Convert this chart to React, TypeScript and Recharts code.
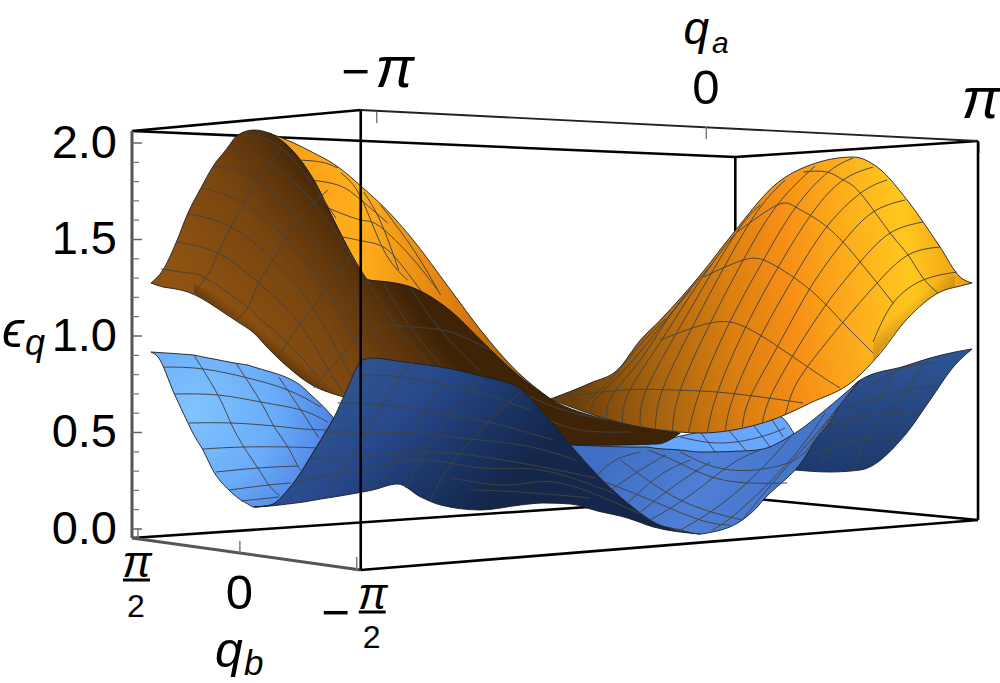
import React from 'react';
import { ComposedChart, XAxis, YAxis, Area, Line, Scatter } from 'recharts';

type Pt = [number, number];

// ---- projected surface outlines (x, upper edge, lower edge) ----
const lightXs = [150, 157, 173, 187, 193, 202, 213, 228, 240, 247, 253, 270, 287, 303, 307, 320, 333];
const lightTop = [352, 352.5, 353.5, 354.5, 355, 357, 359, 362, 364, 365, 367, 372, 378, 388, 392, 404, 418];
const lightBot = [352, 357, 393, 423, 435, 450, 472, 490, 500, 504, 507, 505, 490, 468, 461, 440, 418];

const stripXs = [570, 610, 647, 680, 720, 760, 778, 794];
const stripTop = [445, 445, 444, 436, 428, 420, 416, 434];
const stripBot = [445, 448, 450, 460, 460, 455, 445, 434];

const navyXs = [795, 830, 860, 905, 930, 955, 972];
const navyTop = [470, 420, 380, 366, 358, 352, 349];
const navyBot = [470, 472, 470, 435, 400, 365, 349];

const upperXs = [268, 293, 313, 333, 350, 360, 368, 387, 410, 450, 480, 517, 550];
const upperTop = [133, 143, 153, 164, 177, 186, 193, 211, 237, 290, 330, 372, 399];
const upperBot = [133, 152, 180, 220, 253, 270, 280, 282, 287, 311, 340, 375, 399];

const brownXs = [150, 162, 175, 187, 200, 213, 225, 237, 253, 268, 293, 313, 333, 350, 360, 368, 387, 410, 450, 480, 517, 550, 607, 657, 680];
const brownTop = [283, 270, 243, 213, 188, 165, 150, 135, 130, 133, 152, 180, 220, 253, 270, 280, 282, 287, 311, 340, 375, 399, 420, 430, 433];
const brownBot = [283, 287, 289, 292, 298, 306, 314, 322, 333, 349, 372, 386, 394, 399, 402, 410, 420, 425, 430, 435, 440, 445, 445, 444, 433];

const brownRimXs = [193, 220, 247, 277, 307, 343];
const brownRimTop = [285, 296, 312, 342, 368, 385];
const brownRimBot = [293, 310, 328, 358, 383, 397];

const orangeXs = [550, 590, 617, 640, 660, 700, 733, 777, 810, 853, 877, 907, 940, 960, 972];
const orangeTop = [399, 383, 370, 340, 320, 275, 233, 183, 165, 157, 167, 200, 247, 277, 283];
const orangeBot = [399, 414, 422, 427, 430, 433, 430, 418, 403, 381, 357, 319, 292, 286, 283];

const orangeRimXs = [873, 893, 907, 925, 940, 955];
const orangeRimTop = [345, 312, 296, 280, 274, 276];
const orangeRimBot = [361, 335, 319, 303, 292, 287];

const deepXs = [253, 270, 287, 303, 320, 333, 345, 362, 372, 397, 420, 440, 480, 520, 543, 570, 597, 627, 653, 700];
const deepTop = [507, 505, 490, 468, 440, 418, 392, 360, 358, 361, 364, 367, 376, 389, 413, 445, 475, 503, 522, 534];
const deepBot = [507, 506, 504, 502, 499, 497, 495, 492, 490, 484, 497, 505, 510, 505, 503, 504, 511, 518, 527, 534];

const midXs = [570, 597, 627, 647, 653, 680, 700, 707, 742, 757, 763, 790, 795, 825, 860];
const midTop = [445, 446, 447, 447, 448, 450, 452, 452, 451, 450, 449, 436, 433, 410, 380];
const midBot = [445, 475, 503, 518, 522, 530, 534, 533, 520, 507, 500, 475, 470, 425, 380];

// ---- mesh lines ----
const lightMesh: Pt[][] = [
  [[163, 367], [203, 369], [247, 378], [287, 390], [320, 407]],
  [[173, 394], [217, 395], [260, 402], [300, 410], [327, 422]],
  [[188, 423], [230, 423], [273, 426], [303, 429], [327, 430]],
  [[202, 449], [243, 447], [287, 447], [317, 448]],
  [[215, 472], [257, 468], [297, 466]],
  [[228, 490], [268, 485], [290, 483]],
  [[240, 501], [278, 497]],
  [[193, 355], [217, 395], [230, 423], [243, 447], [257, 468], [268, 485], [279, 496]],
  [[235, 363], [260, 402], [273, 426], [287, 447], [297, 466], [302, 472]],
  [[278, 377], [300, 410], [318, 438]],
];
const brownMesh: Pt[][] = [
  [[160, 269], [188, 273], [208, 280], [247, 307], [258, 318], [287, 343], [317, 377]],
  [[175, 242], [217, 253], [258, 283], [298, 323], [328, 370], [343, 393]],
  [[188, 214], [230, 227], [272, 260], [312, 307], [340, 357], [358, 387]],
  [[202, 188], [243, 203], [285, 238], [325, 288], [353, 340], [372, 375]],
  [[213, 166], [255, 180], [298, 220], [340, 273], [372, 330], [400, 361]],
  [[226, 147], [268, 163], [313, 203], [360, 270], [395, 325], [430, 364]],
  [[240, 135], [283, 150], [335, 218]],
  [[193, 293], [208, 273], [217, 253], [230, 227], [243, 203], [255, 180], [268, 163], [283, 147]],
  [[235, 320], [247, 307], [258, 283], [272, 260], [285, 238], [298, 218], [313, 203], [327, 190]],
  [[277, 357], [300, 323], [312, 307], [325, 288], [340, 273], [350, 255]],
  [[313, 388], [328, 370], [340, 357], [353, 340], [372, 326], [413, 327], [450, 332], [490, 350]],
  [[383, 283], [407, 323], [440, 365]],
  [[410, 288], [440, 330], [480, 372]],
  [[520, 392], [570, 412], [640, 425]],
  [[505, 385], [560, 425], [630, 432]],
];
const upperMesh: Pt[][] = [
  [[295, 160], [320, 162], [337, 168]],
  [[310, 180], [337, 185], [358, 198], [387, 223]],
  [[327, 208], [360, 220], [377, 225], [407, 253], [437, 290]],
  [[342, 237], [367, 242], [387, 250], [407, 273], [425, 297]],
  [[340, 173], [360, 197], [383, 250], [407, 280]],
  [[363, 192], [380, 222], [398, 270]],
  [[380, 205], [413, 250], [440, 295]],
];
const orangeMesh: Pt[][] = [
  [[557, 398], [623, 390], [673, 390], [727, 393], [803, 403]],
  [[660, 340], [710, 323], [747, 328], [793, 357], [827, 380], [840, 388]],
  [[703, 277], [743, 260], [770, 263], [810, 290], [843, 323], [873, 353]],
  [[737, 232], [777, 205], [797, 208], [827, 227], [860, 262], [893, 303]],
  [[803, 172], [827, 172], [843, 180], [860, 193], [890, 233], [908, 255], [923, 278], [938, 293]],
  [[957, 272], [923, 280], [893, 303], [873, 342]],
  [[940, 247], [908, 255], [877, 283], [843, 322], [810, 363], [793, 390], [785, 415]],
  [[923, 222], [890, 233], [860, 262], [827, 303], [793, 355], [770, 397], [762, 423]],
  [[905, 200], [873, 212], [843, 242], [810, 288], [777, 347], [750, 397], [742, 427]],
  [[887, 180], [862, 192], [828, 225], [795, 275], [760, 337], [733, 397], [725, 431]],
  [[873, 167], [843, 180], [812, 213], [778, 267], [745, 328], [717, 393], [707, 433]],
  [[853, 158], [828, 172], [795, 208], [762, 262], [727, 327], [700, 390], [688, 432]],
  [[815, 166], [777, 205], [743, 260], [710, 323], [680, 390], [672, 431]],
  [[785, 180], [758, 210], [725, 265], [692, 327], [662, 390], [655, 429]],
  [[760, 205], [740, 227], [707, 280], [675, 335], [645, 392], [640, 428]],
  [[735, 234], [722, 250], [690, 295], [658, 345], [628, 393], [622, 425]],
  [[712, 264], [672, 312], [640, 360], [612, 395], [606, 420]],
  [[690, 290], [655, 333], [622, 372], [596, 398], [590, 414]],
  [[665, 319], [635, 350], [605, 385], [578, 407]],
];
const navyMesh: Pt[][] = [
  [[937, 363], [907, 367], [870, 385]],
  [[937, 387], [905, 390], [870, 400], [845, 408]],
  [[920, 415], [890, 413], [850, 420], [827, 423]],
  [[900, 440], [867, 438], [820, 452]],
  [[923, 365], [907, 390], [890, 413], [867, 438], [857, 463]],
  [[893, 373], [873, 407], [850, 420], [820, 465]],
];
const stripMesh: Pt[][] = [
  [[680, 437], [720, 443], [760, 437], [785, 428]],
  [[700, 432], [715, 452]],
  [[725, 426], [745, 450]],
  [[750, 421], [770, 447]],
  [[770, 417], [783, 437]],
];
const deepMesh: Pt[][] = [
  [[360, 375], [400, 377], [447, 385], [480, 393], [530, 410]],
  [[337, 403], [383, 405], [450, 415], [500, 425], [553, 440]],
  [[323, 432], [413, 433], [450, 437], [520, 445], [575, 460]],
  [[310, 458], [360, 457], [410, 453], [450, 453], [520, 463], [595, 478]],
  [[295, 482], [330, 475], [360, 470], [420, 460], [480, 468], [540, 470], [615, 494]],
  [[410, 362], [380, 407], [353, 453], [330, 487]],
  [[445, 378], [413, 433], [383, 480], [365, 491]],
  [[480, 380], [450, 415], [420, 460], [405, 488]],
  [[520, 392], [490, 420], [450, 465], [430, 500]],
  [[450, 478], [510, 485], [560, 483], [640, 514]],
  [[470, 490], [520, 492], [590, 498]],
];
const midMesh: Pt[][] = [
  [[597, 475], [615, 460], [640, 452]],
  [[610, 490], [640, 470], [665, 455]],
  [[627, 503], [660, 475], [690, 460]],
  [[640, 512], [675, 485], [710, 462]],
  [[650, 520], [690, 495], [730, 465], [760, 450]],
  [[680, 530], [720, 505], [760, 470], [790, 437]],
  [[712, 530], [740, 510], [790, 460], [825, 413]],
  [[742, 520], [775, 480], [815, 435], [850, 392]],
  [[647, 450], [677, 462], [723, 480], [787, 483]],
  [[620, 460], [680, 500], [742, 520]],
  [[605, 482], [650, 500], [700, 520], [730, 525]],
  [[680, 452], [730, 470], [790, 462], [815, 437]],
];

// ---- box ----
const boxBackHeavy: Pt[][] = [
  [[131, 131], [735, 157]],
  [[735, 157], [978, 141]],
  [[131, 131], [360, 110]],
  [[735, 157], [735, 320]],
  [[131, 538], [735, 497]],
  [[735, 497], [978, 520]],
];
const boxBackLight: Pt[][] = [[[360, 110], [978, 141]]];
const boxGrey: Pt[][] = [
  [[131, 131], [131, 538]],
  [[131, 538], [360, 570]],
];
const boxFront: Pt[][] = [
  [[360, 110], [360, 570]],
  [[360, 570], [978, 520]],
  [[978, 141], [978, 520]],
];
const boxTicks: Pt[][] = [
  [[376, 112], [376, 123]],
  [[706, 126], [706, 139]],
  [[979, 143], [979, 153]],
  [[137, 528], [137, 538]],
  [[239, 541], [239, 553]],
  [[356, 557], [356, 570]],
];
const fractionBars: Pt[][] = [
  [[122, 580], [149, 580]],
  [[358, 612], [385, 612]],
];

// ---- energy axis ----
const energyMajor = [0, 0.5, 1, 1.5, 2];
const energyMinor = [0.1, 0.2, 0.3, 0.4, 0.6, 0.7, 0.8, 0.9, 1.1, 1.2, 1.3, 1.4, 1.6, 1.7, 1.8, 1.9];

// ---- text ----
type Note = { x: number; y: number; text: string; kind: string };
const notes: Note[] = [
  { x: 355, y: 88, text: '−', kind: 'big' },
  { x: 394, y: 87, text: 'π', kind: 'pi' },
  { x: 705.5, y: 104, text: '0', kind: 'big' },
  { x: 981, y: 118, text: 'π', kind: 'pi' },
  { x: 238.5, y: 609, text: '0', kind: 'big' },
  { x: 136, y: 577, text: 'π', kind: 'fracPi' },
  { x: 135, y: 617, text: '2', kind: 'frac' },
  { x: 372, y: 609, text: 'π', kind: 'fracPi' },
  { x: 371, y: 648, text: '2', kind: 'frac' },
  { x: 335, y: 629, text: '−', kind: 'big' },
  { x: 228, y: 667, text: 'q', kind: 'ital' },
  { x: 253, y: 675, text: 'b', kind: 'subB' },
  { x: 696, y: 44, text: 'q', kind: 'italTop' },
  { x: 720, y: 53, text: 'a', kind: 'subA' },
];
const noteStyle: Record<string, any> = {
  big: { fontSize: 49 },
  pi: { fontSize: 58, fontStyle: 'italic' },
  fracPi: { fontSize: 44, fontStyle: 'italic' },
  frac: { fontSize: 32 },
  ital: { fontSize: 50, fontStyle: 'italic' },
  italTop: { fontSize: 46, fontStyle: 'italic' },
  subB: { fontSize: 35, fontStyle: 'italic' },
  subA: { fontSize: 30, fontStyle: 'italic' },
};

const FONT = '"Liberation Sans", Arial, sans-serif';

const band = (xs: number[], top: number[], bot: number[]) =>
  xs.map((x, i) => ({ x, range: [bot[i], top[i]] }));
const poly = (list: Pt[][]) => {
  const out: { x: number; y: number | null }[] = [];
  list.forEach((l) => {
    l.forEach(([x, y]) => out.push({ x, y }));
    out.push({ x: l[l.length - 1][0], y: null });
  });
  return out;
};
const energyTicks = (vals: number[], len: number) => {
  const out: { x: number; e: number | null }[] = [];
  vals.forEach((e) => {
    out.push({ x: 131, e }, { x: 131 + len, e }, { x: 131 + len, e: null });
  });
  return out;
};

const LAYERS = [
  'back-heavy', 'back-light', 'grey', 'ticks', 'emajor', 'eminor',
  'light', 'light-mesh', 'strip', 'strip-mesh',
  'upper', 'upper-mesh', 'brown', 'brown-rim', 'brown-mesh', 'orange', 'orange-rim', 'orange-mesh',
  'navy', 'navy-mesh', 'deep', 'deep-mesh', 'mid', 'mid-mesh',
  'front', 'bars',
];
const z = (id: string) => 1 + LAYERS.indexOf(id);

const face = (id: string, xs: number[], top: number[], bot: number[], fill: string, stroke: string = '#1d1d1d') => (
  <Area
    key={id}
    yAxisId="px"
    zIndex={z(id)}
    data={band(xs, top, bot)}
    dataKey="range"
    type="monotone"
    stroke={stroke}
    strokeWidth={0.9}
    fill={fill}
    fillOpacity={1}
    dot={false}
    activeDot={false}
    isAnimationActive={false}
  />
);
const wire = (id: string, list: Pt[][], stroke: string, w: number, type: any = 'linear') => (
  <Line
    key={id}
    yAxisId="px"
    zIndex={z(id)}
    data={poly(list)}
    dataKey="y"
    type={type}
    stroke={stroke}
    strokeWidth={w}
    dot={false}
    activeDot={false}
    isAnimationActive={false}
    connectNulls={false}
  />
);
const mesh = (id: string, list: Pt[][], stroke = '#424240', w = 0.95) => wire(id, list, stroke, w, 'natural');

const NoteMark = (p: any) => {
  const n: Note = p.payload;
  return (
    <text x={p.cx} y={p.cy} textAnchor="middle" fontFamily={FONT} fill="#000" {...noteStyle[n.kind]}>
      {n.text}
    </text>
  );
};

const EpsTitle = () => (
  <g>
    <text x={2} y={347} fontFamily={FONT} fontSize={50} fontStyle="italic" fill="#000">ϵ</text>
    <text x={25} y={355} fontFamily={FONT} fontSize={36} fontStyle="italic" fill="#000">q</text>
  </g>
);

export default function App() {
  return (
    <div style={{ position: 'absolute', left: 0, top: 0, width: 1000, height: 683, background: '#fff' }}>
      <ComposedChart width={1000} height={683} margin={{ top: 0, right: 0, bottom: 0, left: 0 }}>
        <defs>
          <radialGradient id="gLight" gradientUnits="userSpaceOnUse" cx={195} cy={410} r={135}>
            <stop offset="0" stopColor="#80C4FF" />
            <stop offset="0.6" stopColor="#6AABF8" />
            <stop offset="1" stopColor="#4F87E6" />
          </radialGradient>
          <linearGradient id="gBrown" gradientUnits="userSpaceOnUse" x1={200} y1={300} x2={340} y2={200}>
            <stop offset="0" stopColor="#8E5310" />
            <stop offset="0.5" stopColor="#7A4610" />
            <stop offset="0.8" stopColor="#5C340B" />
            <stop offset="1" stopColor="#3F2306" />
          </linearGradient>
          <linearGradient id="gBrownRim" gradientUnits="userSpaceOnUse" x1={268} y1={335} x2={256} y2={350}>
            <stop offset="0" stopColor="#3F2306" stopOpacity={0} />
            <stop offset="1" stopColor="#3F2306" stopOpacity={0.75} />
          </linearGradient>
          <linearGradient id="gUpper" gradientUnits="userSpaceOnUse" x1={268} y1={0} x2={550} y2={0}>
            <stop offset="0" stopColor="#F89A16" />
            <stop offset="0.33" stopColor="#FFAE1C" />
            <stop offset="0.65" stopColor="#E07F10" />
            <stop offset="1" stopColor="#8A500C" />
          </linearGradient>
          <linearGradient id="gOrange" gradientUnits="userSpaceOnUse" x1={560} y1={300} x2={970} y2={250}>
            <stop offset="0" stopColor="#6B3F0A" />
            <stop offset="0.2" stopColor="#A5620F" />
            <stop offset="0.4" stopColor="#D97E10" />
            <stop offset="0.55" stopColor="#F68E15" />
            <stop offset="0.72" stopColor="#FDB01C" />
            <stop offset="0.85" stopColor="#FFC71E" />
            <stop offset="1" stopColor="#F09A12" />
          </linearGradient>
          <linearGradient id="gOrangeRim" gradientUnits="userSpaceOnUse" x1={888} y1={290} x2={916} y2={323}>
            <stop offset="0" stopColor="#A06C14" stopOpacity={0} />
            <stop offset="0.55" stopColor="#A06C14" stopOpacity={0} />
            <stop offset="1" stopColor="#A06C14" stopOpacity={0.5} />
          </linearGradient>
          <linearGradient id="gDeep" gradientUnits="userSpaceOnUse" x1={330} y1={380} x2={470} y2={520}>
            <stop offset="0" stopColor="#30568F" />
            <stop offset="0.4" stopColor="#27478A" />
            <stop offset="0.7" stopColor="#1C3668" />
            <stop offset="1" stopColor="#14274A" />
          </linearGradient>
          <linearGradient id="gMid" gradientUnits="userSpaceOnUse" x1={600} y1={450} x2={800} y2={520}>
            <stop offset="0" stopColor="#3E6FC4" />
            <stop offset="0.5" stopColor="#507FD6" />
            <stop offset="1" stopColor="#4272C8" />
          </linearGradient>
          <linearGradient id="gNavy" gradientUnits="userSpaceOnUse" x1={0} y1={350} x2={0} y2={470}>
            <stop offset="0" stopColor="#2F5596" />
            <stop offset="1" stopColor="#1D3A6C" />
          </linearGradient>
        </defs>

        <XAxis type="number" dataKey="x" domain={[131, 1000]} hide />
        <YAxis yAxisId="px" type="number" dataKey="y" domain={[0, 683]} reversed hide />
        <YAxis
          yAxisId="energy"
          type="number"
          width={123}
          domain={[-0.798, 2.741]}
          ticks={energyMajor}
          interval={0}
          tickFormatter={(v: number) => v.toFixed(1)}
          tickLine={false}
          axisLine={false}
          tickSize={0}
          tickMargin={6}
          tick={{ fontSize: 47, fontFamily: FONT, fill: '#000', dy: -2 }}
          label={{ content: () => <EpsTitle /> }}
        />

        {wire('back-heavy', boxBackHeavy, '#000', 2.6)}
        {wire('back-light', boxBackLight, '#222', 1.8)}
        {wire('grey', boxGrey, '#555', 3)}
        {wire('ticks', boxTicks, '#777', 1.4)}
        <Line yAxisId="energy" zIndex={z('emajor')} data={energyTicks(energyMajor, 10)} dataKey="e" stroke="#666" strokeWidth={1.4} dot={false} activeDot={false} isAnimationActive={false} />
        <Line yAxisId="energy" zIndex={z('eminor')} data={energyTicks(energyMinor, 7)} dataKey="e" stroke="#777" strokeWidth={1.2} dot={false} activeDot={false} isAnimationActive={false} />

        {face('light', lightXs, lightTop, lightBot, 'url(#gLight)')}
        {mesh('light-mesh', lightMesh)}
        {face('strip', stripXs, stripTop, stripBot, '#67A7FF')}
        {mesh('strip-mesh', stripMesh)}

        {face('upper', upperXs, upperTop, upperBot, 'url(#gUpper)')}
        {mesh('upper-mesh', upperMesh)}
        {face('brown', brownXs, brownTop, brownBot, 'url(#gBrown)')}
        {face('brown-rim', brownRimXs, brownRimTop, brownRimBot, 'url(#gBrownRim)', 'none')}
        {mesh('brown-mesh', brownMesh)}
        {face('orange', orangeXs, orangeTop, orangeBot, 'url(#gOrange)')}
        {face('orange-rim', orangeRimXs, orangeRimTop, orangeRimBot, 'url(#gOrangeRim)', 'none')}
        {mesh('orange-mesh', orangeMesh)}

        {face('navy', navyXs, navyTop, navyBot, 'url(#gNavy)')}
        {mesh('navy-mesh', navyMesh)}
        {face('deep', deepXs, deepTop, deepBot, 'url(#gDeep)')}
        {mesh('deep-mesh', deepMesh)}
        {face('mid', midXs, midTop, midBot, 'url(#gMid)')}
        {mesh('mid-mesh', midMesh)}

        {wire('front', boxFront, '#000', 2.6)}
        {wire('bars', fractionBars, '#000', 3)}
        <Scatter yAxisId="px" data={notes} dataKey="y" shape={NoteMark} isAnimationActive={false} />
      </ComposedChart>
    </div>
  );
}
